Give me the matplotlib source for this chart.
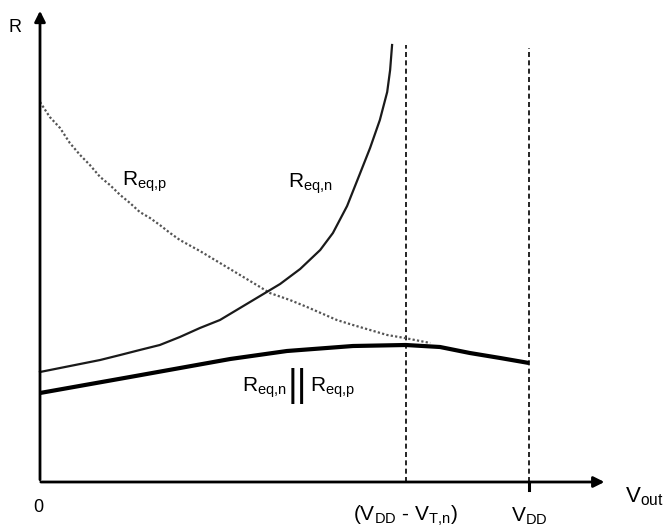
import numpy as np
import matplotlib
matplotlib.use('Agg')
import matplotlib.pyplot as plt

plt.rcParams['font.family'] = ['Liberation Sans', 'DejaVu Sans']
plt.rcParams['mathtext.fontset'] = 'custom'
plt.rcParams['mathtext.rm'] = 'Liberation Sans'
plt.rcParams['mathtext.it'] = 'Liberation Sans'

# V_out in units of V_DD, R in arbitrary units
v_tn = 0.748  # position of (VDD - VT,n)
v_dd = 1.0

v_p = [0.000, 0.020, 0.041, 0.061, 0.082, 0.102, 0.123, 0.143, 0.164, 0.184,
       0.204, 0.225, 0.245, 0.266, 0.286, 0.327, 0.368, 0.409, 0.450, 0.470,
       0.511, 0.546, 0.607, 0.640, 0.675, 0.710, 0.746, 0.798]
r_p = [3.80, 3.65, 3.54, 3.39, 3.27, 3.17, 3.05, 2.97, 2.87, 2.79,
       2.70, 2.64, 2.57, 2.49, 2.42, 2.31, 2.19, 2.07, 1.95, 1.89,
       1.82, 1.75, 1.62, 1.57, 1.52, 1.47, 1.44, 1.39]

v_n = [0.000, 0.041, 0.082, 0.123, 0.164, 0.204, 0.245, 0.286, 0.327, 0.368,
       0.409, 0.450, 0.491, 0.532, 0.573, 0.599, 0.628, 0.654, 0.675, 0.695,
       0.710, 0.716, 0.720]
r_n = [1.10, 1.14, 1.18, 1.22, 1.27, 1.32, 1.37, 1.45, 1.54, 1.62,
       1.74, 1.86, 1.98, 2.13, 2.32, 2.49, 2.76, 3.08, 3.34, 3.62,
       3.90, 4.12, 4.37]

v_par = [0.000, 0.092, 0.184, 0.389, 0.505, 0.640, 0.748, 0.818, 0.879, 0.941, 1.000]
r_par = [0.89, 0.97, 1.05, 1.23, 1.31, 1.36, 1.37, 1.35, 1.29, 1.24, 1.19]

fig = plt.figure(figsize=(6.68, 5.31), dpi=100)
ax = fig.add_axes([0, 0, 1, 1])
ax.set_xlim(-40 / 489, 628 / 489)
ax.set_ylim(-0.49, 4.82)
ax.axis('off')

# axes with arrows
ax.annotate('', xy=(0, 4.74), xytext=(0, -0.005),
            arrowprops=dict(arrowstyle='-|>', lw=2, color='black', mutation_scale=16))
ax.annotate('', xy=(1.16, 0), xytext=(-0.004, 0),
            arrowprops=dict(arrowstyle='-|>', lw=2, color='black', mutation_scale=16))

# vertical dashed lines
ax.plot([v_tn, v_tn], [0, 4.37], ls=(0, (3, 2)), lw=1.2, color='black')
ax.plot([v_dd, v_dd], [0, 4.34], ls=(0, (3, 2)), lw=1.2, color='black')
ax.plot([v_dd, v_dd], [0, -0.08], lw=2.2, color='black')

# curves
ax.plot(v_p, r_p, ls=(0, (1, 1)), lw=1.6, color='#555555')
ax.plot(v_n, r_n, lw=1.6, color='#1a1a1a')
ax.plot(v_par, r_par, lw=3, color='black', solid_capstyle='butt')

# labels
ax.text(-0.052, 4.54, 'R', fontsize=13, ha='center', va='center')
ax.text(0.167, 3.00, r'R$_{\mathrm{eq{,}p}}$', fontsize=15, ha='left', va='center')
ax.text(0.508, 2.98, r'R$_{\mathrm{eq{,}n}}$', fontsize=15, ha='left', va='center')
ax.text(0.413, 0.94, r'R$_{\mathrm{eq{,}n}}$', fontsize=15, ha='left', va='center')
ax.text(0.527, 0.96, '||', fontsize=27, ha='center', va='center')
ax.text(0.552, 0.94, r'R$_{\mathrm{eq{,}p}}$', fontsize=15, ha='left', va='center')

ax.text(-0.004, -0.26, '0', fontsize=13, ha='center', va='center')
ax.text(v_tn, -0.34, r'(V$_{\mathrm{DD}}$ - V$_{\mathrm{T{,}n}}$)', fontsize=15, ha='center', va='center')
ax.text(v_dd, -0.34, r'V$_{\mathrm{DD}}$', fontsize=15, ha='center', va='center')
ax.text(1.196, -0.15, r'V$_{\mathrm{out}}$', fontsize=16, ha='left', va='center')

fig.savefig('out.png', dpi=100)
